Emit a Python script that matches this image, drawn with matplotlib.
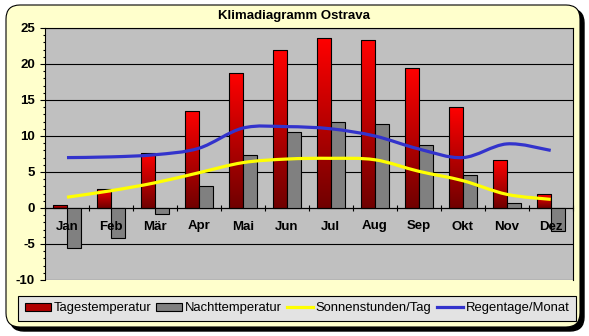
import numpy as np
import matplotlib.pyplot as plt
from matplotlib.colors import LinearSegmentedColormap
from matplotlib.patches import FancyBboxPatch, PathPatch, Patch
from matplotlib.lines import Line2D
from matplotlib.path import Path
from matplotlib.transforms import IdentityTransform

plt.rcParams['font.family'] = ['Liberation Sans', 'DejaVu Sans']
plt.rcParams['axes.unicode_minus'] = False

monate = ['Jan', 'Feb', 'Mär', 'Apr', 'Mai', 'Jun',
          'Jul', 'Aug', 'Sep', 'Okt', 'Nov', 'Dez']
tages = [0.4, 2.7, 7.6, 13.5, 18.7, 21.9, 23.6, 23.3, 19.4, 14.0, 6.6, 1.9]
nacht = [-5.6, -4.2, -0.9, 3.0, 7.3, 10.5, 11.9, 11.6, 8.7, 4.6, 0.7, -3.2]
sonne = [1.5, 2.4, 3.5, 4.9, 6.3, 6.8, 6.9, 6.7, 5.1, 3.8, 1.9, 1.2]
regen = [7.0, 7.1, 7.4, 8.3, 11.1, 11.3, 11.0, 10.0, 8.2, 7.0, 8.9, 8.0]


def smooth_path(x, y):
    # bezier curve through the points, like excel's smoothed line
    p = np.column_stack([x, y]).astype(float)
    ext = np.vstack([p[0], p, p[-1]])
    verts = [p[0]]
    codes = [Path.MOVETO]
    for i in range(len(p) - 1):
        p0, p1, p2, p3 = ext[i], ext[i + 1], ext[i + 2], ext[i + 3]
        verts += [p1 + (p2 - p0) / 6, p2 - (p3 - p1) / 6, p2]
        codes += [Path.CURVE4] * 3
    return Path(verts, codes)


fig = plt.figure(figsize=(5.89, 3.36), dpi=100, facecolor='white')

# rounded yellow frame with shadow
shadow = FancyBboxPatch((10, 5), 574, 322, boxstyle='round,pad=0,rounding_size=14',
                        transform=IdentityTransform(), facecolor='black',
                        edgecolor='black', zorder=-2)
frame = FancyBboxPatch((6, 9), 574, 322, boxstyle='round,pad=0,rounding_size=14',
                       transform=IdentityTransform(), facecolor='#FFFFCC',
                       edgecolor='black', lw=0.8, zorder=-1)
fig.patches.extend([shadow, frame])

ax = fig.add_axes([45 / 589, 56 / 336, 527.7 / 589, 252 / 336])
ax.set_facecolor('#C0C0C0')

x = np.arange(len(monate))
w = 0.32
red = LinearSegmentedColormap.from_list('rot', ['#700000', '#FF0000'])
grad = np.linspace(1, 0, 256).reshape(-1, 1)

bars = ax.bar(x - w / 2, tages, w, facecolor='none', edgecolor='black',
              lw=0.8, zorder=3)
for b in bars:
    bx, by = b.get_x(), b.get_y()
    im = ax.imshow(grad, cmap=red, aspect='auto', zorder=2.5,
                   extent=[bx, bx + b.get_width(), by, by + b.get_height()])
    im.set_clip_path(b)

ax.bar(x + w / 2, nacht, w, facecolor='#808080', edgecolor='black',
       lw=0.8, zorder=3)

ax.add_patch(PathPatch(smooth_path(x, sonne), fill=False, edgecolor='#FFFF00',
                       lw=2.3, capstyle='butt', zorder=4))
ax.add_patch(PathPatch(smooth_path(x, regen), fill=False, edgecolor='#3333CC',
                       lw=2.3, capstyle='butt', zorder=4))

ax.set_xlim(-0.5, 11.5)
ax.set_ylim(-10, 25)
ax.set_yticks(np.arange(-10, 26, 5))
ax.set_yticks(np.arange(-10, 26, 1), minor=True)
ax.grid(axis='y', color='black', lw=0.8)
ax.set_axisbelow(True)
ax.xaxis.set_zorder(5)  # month names sit on top of the bars

ax.spines['bottom'].set_position(('data', 0))
for s in ax.spines.values():
    s.set_linewidth(0.8)
ax.set_xticks(np.arange(-0.5, 12, 1))
ax.set_xticklabels([])
ax.set_xticks(x, minor=True)
ax.set_xticklabels(monate, minor=True, fontsize=9.5, fontweight='bold')
ax.tick_params(axis='x', which='major', direction='inout', length=5, width=0.8)
ax.tick_params(axis='x', which='minor', length=0, pad=9)
ax.tick_params(axis='y', which='major', length=3.6, width=0.8, pad=3.6,
               labelsize=9.5)
ax.tick_params(axis='y', which='minor', length=1.8, width=0.8)
for t in ax.get_yticklabels():
    t.set_fontweight('bold')

fig.text(0.5, 1 - 16 / 336, 'Klimadiagramm Ostrava', ha='center', va='center',
         fontsize=9.5, fontweight='bold')

handles = [Patch(facecolor='#B00000', edgecolor='black', lw=0.8),
           Patch(facecolor='#808080', edgecolor='black', lw=0.8),
           Line2D([], [], color='#FFFF00', lw=2.3),
           Line2D([], [], color='#3333CC', lw=2.3)]
names = ['Tagestemperatur', 'Nachttemperatur', 'Sonnenstunden/Tag', 'Regentage/Monat']
leg = fig.legend(handles, names, loc='lower left', bbox_to_anchor=(18 / 589, 15 / 336),
                 ncol=4, fontsize=9.4, frameon=True, fancybox=False,
                 borderaxespad=0, borderpad=0.5, handlelength=2.0,
                 handleheight=0.55, handletextpad=0.2, columnspacing=0.4)
leg.get_frame().set_facecolor('#E3E3E3')
leg.get_frame().set_edgecolor('black')
leg.get_frame().set_linewidth(0.8)
leg.get_frame().set_alpha(1)

fig.savefig('out.png', dpi=100)
